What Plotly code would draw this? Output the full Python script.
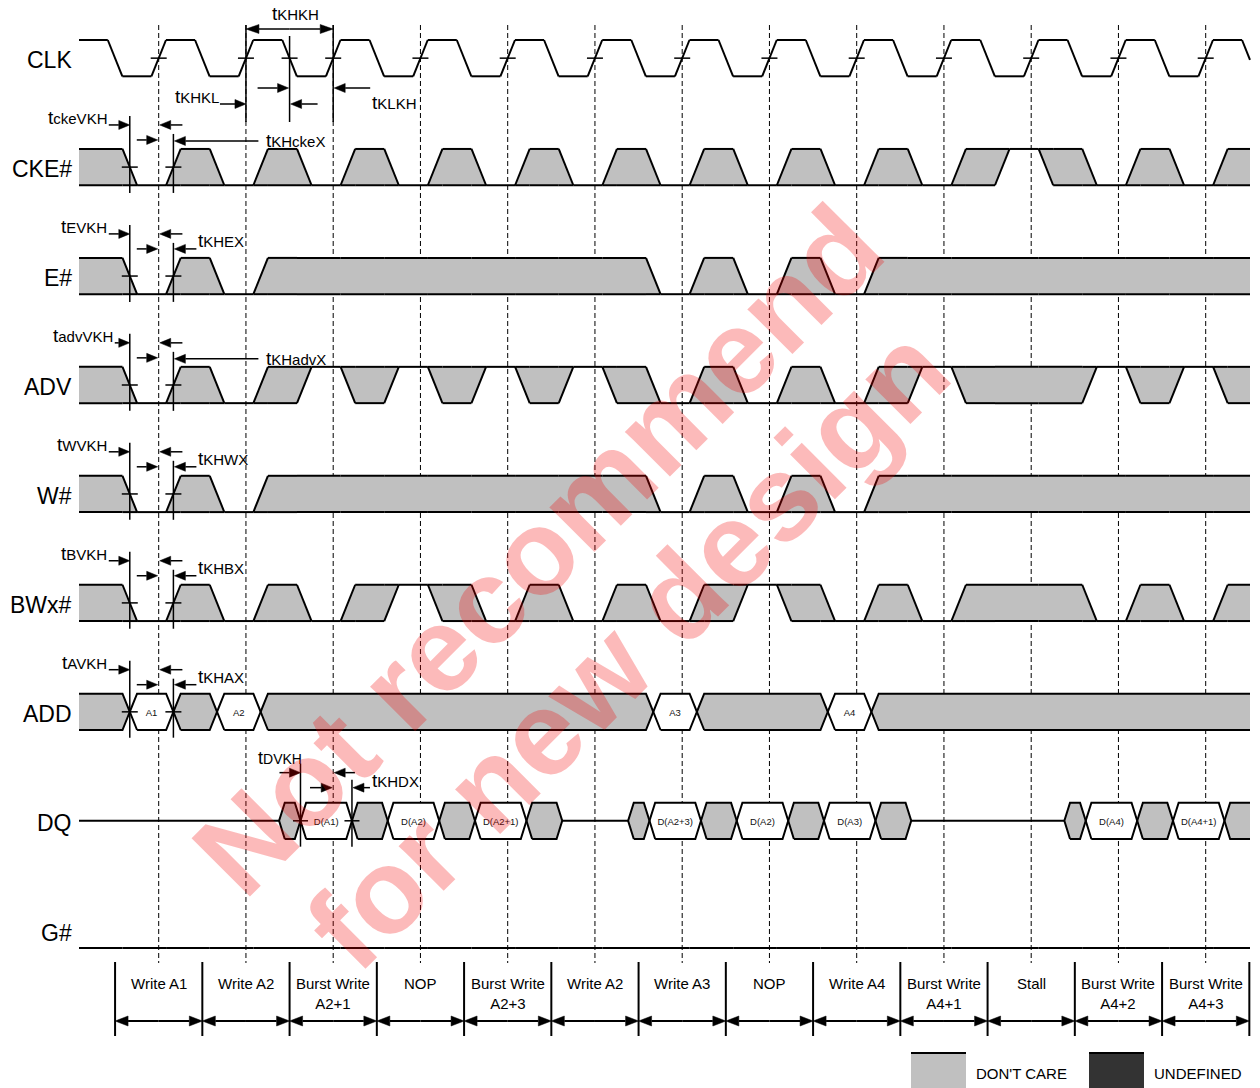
import plotly.graph_objects as go

# ------------------------------------------------------------------ data
SIGNALS = ["CLK", "CKE#", "E#", "ADV", "W#", "BWx#", "ADD", "DQ", "G#"]

# one state per half clock period: H high, L low, X don't care
CLK_STATES = list("HL" * 14)
CKE_STATES = list("XL" * 10 + "XH" + "XL" * 2 + "X")
E_STATES = list("XLXL" + "X" * 9 + "LXLXL" + "X" * 9)
ADV_STATES = list("XLXLXHXHXHXHXLXLXLXHXXXHXHX")
W_STATES = list("XLXL" + "X" * 9 + "LXLXL" + "X" * 9)
BW_STATES = list("XLXLXLXHXLXLXLXHXLXLXXXLXLX")
G_STATES = list("L" * 27)

# address bus, one value per half clock period
ADD_VALUES = ["X", "A1", "X", "A2"] + ["X"] * 9 + ["A3", "X", "X", "X", "A4"] + ["X"] * 9

# data bus: value and crossing time (in clock periods) where it starts
DQ_VALUES = ["Z", "X", "D(A1)", "X", "D(A2)", "X", "D(A2+1)", "X", "Z", "X",
             "D(A2+3)", "X", "D(A2)", "X", "D(A3)", "X", "Z", "X", "D(A4)", "X",
             "D(A4+1)", "X"]
DQ_CROSS = [None, 1.38, 1.625, 2.215, 2.625, 3.215, 3.625, 4.215, 4.625, 5.38,
            5.625, 6.215, 6.625, 7.215, 7.625, 8.215, 8.625, 10.38, 10.625, 11.215,
            11.625, 12.215]

CYCLE_LABELS = ["Write A1", "Write A2", "Burst Write<br>A2+1", "NOP",
                "Burst Write<br>A2+3", "Write A2", "Write A3", "NOP", "Write A4",
                "Burst Write<br>A4+1", "Stall", "Burst Write<br>A4+2",
                "Burst Write<br>A4+3"]

SETUP_NAMES = ["ckeVKH", "EVKH", "advVKH", "WVKH", "BVKH", "AVKH"]
HOLD_NAMES = ["KHckeX", "KHEX", "KHadvX", "KHWX", "KHBX", "KHAX"]
CLK_TIMING = ["KHKH", "KHKL", "KLKH"]
DQ_TIMING = ["DVKH", "KHDX"]
LEGEND_LABELS = ["DON'T CARE", "UNDEFINED"]
WATERMARK = ["Not recommend", "for new design"]

# ------------------------------------------------------------------ geometry
FIG_W, FIG_H = 1260, 1088
X0_PX = 158.7
PERIOD_PX = 87.25
LEFT_PX, RIGHT_PX = 79, 1250
ROW0_TOP, ROW_PITCH, ROW_H = 40.0, 108.95, 36.3
EDGE = 0.167
SLOT0 = -0.915
CLK_SLOT0 = -1.0835
HALF = 0.5
DQ_HW = 0.065

GRAY = "#c0c0c0"
DARK = "#333333"
INK = "black"
FONT = "Liberation Sans, Arial, sans-serif"


def t_of(px):
    return (px - X0_PX) / PERIOD_PX


def px_of(t):
    return X0_PX + PERIOD_PX * t


def dpx(p):
    return p / PERIOD_PX


XMIN, XMAX = t_of(LEFT_PX), t_of(RIGHT_PX)


def row_top(r):
    return ROW0_TOP + ROW_PITCH * r


class Path:
    def __init__(self):
        self.x, self.y = [], []

    def add(self, pts):
        for a, b in pts:
            self.x.append(a)
            self.y.append(b)
        self.x.append(None)
        self.y.append(None)


grid, gray, white, sig, ann, box, heads = (Path() for _ in range(7))
bus_text = {"x": [], "y": [], "t": []}


def clip_seg(p, q):
    (xa, ya), (xb, yb) = p, q
    if xa > xb:
        (xa, ya), (xb, yb) = (xb, yb), (xa, ya)
    if xb <= XMIN or xa >= XMAX:
        return None
    nxa, nya, nxb, nyb = xa, ya, xb, yb
    if xa < XMIN:
        nxa, nya = XMIN, ya + (yb - ya) * (XMIN - xa) / (xb - xa)
    if xb > XMAX:
        nxb, nyb = XMAX, ya + (yb - ya) * (XMAX - xa) / (xb - xa)
    return [(nxa, nya), (nxb, nyb)]


def draw_digital(states, slot0, top, bot):
    n = len(states)
    b = [slot0 + HALF * j for j in range(n + 1)]

    def line(p, q):
        s = clip_seg(p, q)
        if s:
            sig.add(s)

    for j, s in enumerate(states):
        a = b[j] + (EDGE if j > 0 and states[j - 1] != s else 0.0)
        e = b[j + 1]
        if s in "HX":
            line((a, top), (e, top))
        if s in "LX":
            line((a, bot), (e, bot))
        if j + 1 < n and states[j + 1] != s:
            p, q, t = s, states[j + 1], b[j + 1]
            if (p, q) in (("L", "H"), ("L", "X"), ("X", "H")):
                line((t, bot), (t + EDGE, top))
            else:
                line((t, top), (t + EDGE, bot))
            if "X" in (p, q):
                lvl = top if "H" in (p, q) else bot
                line((t, lvl), (t + EDGE, lvl))
    j = 0
    while j < n:
        if states[j] != "X":
            j += 1
            continue
        k = j
        while k + 1 < n and states[k + 1] == "X":
            k += 1
        p = states[j - 1] if j > 0 else None
        q = states[k + 1] if k + 1 < n else None
        if p is None:
            pts = [(XMIN, bot), (XMIN, top)]
        elif p == "L":
            pts = [(b[j], bot), (b[j] + EDGE, top)]
        else:
            pts = [(b[j] + EDGE, bot), (b[j], top)]
        if q is None:
            pts += [(XMAX, top), (XMAX, bot)]
        elif q == "L":
            pts += [(b[k + 1], top), (b[k + 1] + EDGE, bot)]
        else:
            pts += [(b[k + 1] + EDGE, top), (b[k + 1], bot)]
        gray.add(pts + [pts[0]])
        j = k + 1


def slots_to_runs(values, slot0):
    vals, cross = [], []
    for j, v in enumerate(values):
        if j == 0 or v != values[j - 1]:
            vals.append(v)
            cross.append(None if j == 0 else slot0 + HALF * j + EDGE / 2)
    return vals, cross


def draw_bus(values, cross, hw, top, bot):
    mid = (top + bot) / 2
    for i, v in enumerate(values):
        cs = cross[i]
        ce = cross[i + 1] if i + 1 < len(values) else None
        if v == "Z":
            sig.add([(XMIN if cs is None else cs, mid), (XMAX if ce is None else ce, mid)])
            continue
        left = [(XMIN, bot), (XMIN, top)] if cs is None else [(cs + hw, bot), (cs, mid), (cs + hw, top)]
        right = [(XMAX, top), (XMAX, bot)] if ce is None else [(ce - hw, top), (ce, mid), (ce - hw, bot)]
        (gray if v == "X" else white).add(left + right + [left[0]])
        if cs is None:
            outline = [(XMIN, top)] + right + [(XMIN, bot)]
        elif ce is None:
            outline = [(XMAX, top)] + list(reversed(left)) + [(XMAX, bot)]
        else:
            outline = left + right + [left[0]]
        sig.add(outline)
        if v != "X":
            bus_text["x"].append((cs + ce) / 2)
            bus_text["y"].append(mid + 1.5)
            bus_text["t"].append(v)


def arrow(t_tail, t_tip, y, L=11, h=9, path=None):
    path = path or ann
    d = 1 if t_tip > t_tail else -1
    base = t_tip - d * dpx(L)
    path.add([(t_tail, y), (base, y)])
    heads.add([(t_tip, y), (base, y - h / 2), (base, y + h / 2), (t_tip, y)])


def tick(t, y, half=8):
    ann.add([(t - dpx(half), y), (t + dpx(half), y)])


annotations = []


def tlabel(name, x_px, y, anchor="left", small=15, big=19):
    annotations.append(dict(
        x=t_of(x_px), y=y, xref="x", yref="y", showarrow=False,
        text="t<span style='font-size:%dpx'>%s</span>" % (small, name),
        font=dict(family=FONT, size=big, color=INK),
        xanchor=anchor, yanchor="middle"))


# ------------------------------------------------------------------ build
n_clk = len(CYCLE_LABELS)
for k in range(n_clk):
    grid.add([(k, 25), (k, 963)])

digital_rows = [(0, CLK_STATES, CLK_SLOT0), (1, CKE_STATES, SLOT0), (2, E_STATES, SLOT0),
                (3, ADV_STATES, SLOT0), (4, W_STATES, SLOT0), (5, BW_STATES, SLOT0),
                (8, G_STATES, SLOT0)]
for r, st, s0 in digital_rows:
    draw_digital(st, s0, row_top(r), row_top(r) + ROW_H)

add_vals, add_cross = slots_to_runs(ADD_VALUES, SLOT0)
draw_bus(add_vals, add_cross, EDGE / 2, row_top(6), row_top(6) + ROW_H)
draw_bus(DQ_VALUES, DQ_CROSS, DQ_HW, row_top(7), row_top(7) + ROW_H)

# clock timing
clk_mid = row_top(0) + ROW_H / 2
for k in range(n_clk):
    tick(k, clk_mid)
tick(1.5, clk_mid)
for t in (1.0, 2.0):
    ann.add([(t, 25), (t, 122)])
ann.add([(1.5, 36), (1.5, 122)])
arrow(1.5, 1.0, 29, L=13)
arrow(1.5, 2.0, 29, L=13)
annotations.append(dict(x=t_of(px_of(1.5) + 6), y=13, xref="x", yref="y", showarrow=False,
                        text="t<span style='font-size:15px'>%s</span>" % CLK_TIMING[0],
                        font=dict(family=FONT, size=19, color=INK), xanchor="center", yanchor="middle"))
tlabel(CLK_TIMING[1], px_of(1.0) - 25, 96, anchor="right")
arrow(t_of(px_of(1.0) - 26), 1.0, 104)
arrow(t_of(px_of(1.5) - 32), 1.5 - dpx(1), 88)
arrow(t_of(px_of(1.5) + 28), 1.5 + dpx(1), 104)
arrow(t_of(px_of(2.0) + 37), 2.0 + dpx(1), 88)
tlabel(CLK_TIMING[2], px_of(2.0) + 37, 102)

# setup / hold annotations for control rows and ADD
c1 = SLOT0 + HALF * 1 + EDGE / 2
c2 = SLOT0 + HALF * 2 + EDGE / 2
long_hold = [True, False, True, False, False, False]
setup_gap = [21, 21, 15, 21, 21, 21]
for i in range(6):
    r = i + 1
    T = row_top(r)
    ann.add([(c1, T - 33), (c1, T + 44)])
    ann.add([(c2, T - 15), (c2, T + 44)])
    tlabel(SETUP_NAMES[i], px_of(c1) - setup_gap[i], T - 31, anchor="right")
    arrow(t_of(px_of(c1) - setup_gap[i]), c1, T - 24)
    arrow(t_of(px_of(c1) + 7), 0 - dpx(1), T - 9)
    arrow(t_of(px_of(c2) + 9), 0 + dpx(1), T - 24)
    if long_hold[i]:
        arrow(t_of(px_of(c2) + 85), c2 + dpx(1), T - 8)
        tlabel(HOLD_NAMES[i], px_of(c2) + 91, T - 8)
    else:
        arrow(t_of(px_of(c2) + 23), c2 + dpx(1), T - 9)
        tlabel(HOLD_NAMES[i], px_of(c2) + 23, T - 17)
    tick(c1, T + ROW_H / 2)
    tick(c2, T + ROW_H / 2)

# DQ annotations
T = row_top(7)
ca, cb = DQ_CROSS[2], DQ_CROSS[3]
ann.add([(ca, T - 39), (ca, T + 44)])
ann.add([(cb, T - 23), (cb, T + 44)])
tlabel(DQ_TIMING[0], px_of(ca) + 4, T - 45, anchor="right", small=14, big=18)
arrow(t_of(px_of(ca) - 21), ca, T - 30)
arrow(t_of(px_of(ca) + 9.5), 2 - dpx(1), T - 15)
arrow(t_of(px_of(cb) + 3), 2 + dpx(1), T - 30)
arrow(t_of(px_of(cb) + 18), cb + dpx(1), T - 15)
tlabel(DQ_TIMING[1], px_of(cb) + 18, T - 22)
tick(ca, T + ROW_H / 2, 7.5)
tick(cb, T + ROW_H / 2, 7.5)

# cycle labels
for k in range(n_clk + 1):
    box.add([(k - 0.5, 962), (k - 0.5, 1036)])
for k, lab in enumerate(CYCLE_LABELS):
    arrow(k, k - 0.5, 1021, L=13, h=10, path=box)
    arrow(k, k + 0.5, 1021, L=13, h=10, path=box)
    annotations.append(dict(x=k, y=972.5, xref="x", yref="y", showarrow=False, text=lab,
                            font=dict(family=FONT, size=15, color=INK),
                            xanchor="center", yanchor="top", align="center"))

# signal names
for r, name in enumerate(SIGNALS):
    y = row_top(r) + ROW_H / 2 + 2 if r < 8 else row_top(r) + 21.5
    annotations.append(dict(x=t_of(73.5), y=y, xref="x", yref="y", showarrow=False, text=name,
                            font=dict(family=FONT, size=23, color=INK),
                            xanchor="right", yanchor="middle"))

# legend
shapes = []
for (x0, col), lab in zip([(911, GRAY), (1089, DARK)], LEGEND_LABELS):
    shapes.append(dict(type="rect", xref="x", yref="y", x0=t_of(x0), x1=t_of(x0 + 55),
                       y0=1053, y1=1095, fillcolor=col, line=dict(width=0), layer="above"))
    shapes.append(dict(type="line", xref="x", yref="y", x0=t_of(x0), x1=t_of(x0 + 55),
                       y0=1053, y1=1053, line=dict(color=INK, width=2), layer="above"))
    annotations.append(dict(x=t_of(x0 + 63), y=1073, xref="x", yref="y", showarrow=False,
                            text=lab, font=dict(family=FONT, size=15, color=INK),
                            xanchor="left", yanchor="middle"))

# watermark
for (cx, cy), txt in zip([(537, 550), (627, 648)], WATERMARK):
    annotations.append(dict(x=t_of(cx), y=cy, xref="x", yref="y", showarrow=False,
                            text="<b>%s</b>" % txt, textangle=-45,
                            font=dict(family=FONT, size=120, color="rgba(245,0,0,0.27)"),
                            xanchor="center", yanchor="middle"))

# ------------------------------------------------------------------ figure
fig = go.Figure()
fig.add_trace(go.Scatter(x=grid.x, y=grid.y, mode="lines",
                         line=dict(color=INK, width=1, dash="5px,3px"), hoverinfo="skip"))
fig.add_trace(go.Scatter(x=gray.x, y=gray.y, mode="lines", fill="toself", fillcolor=GRAY,
                         line=dict(width=0), hoverinfo="skip"))
fig.add_trace(go.Scatter(x=white.x, y=white.y, mode="lines", fill="toself", fillcolor="white",
                         line=dict(width=0), hoverinfo="skip"))
fig.add_trace(go.Scatter(x=sig.x, y=sig.y, mode="lines", line=dict(color=INK, width=2),
                         hoverinfo="skip"))
fig.add_trace(go.Scatter(x=ann.x, y=ann.y, mode="lines", line=dict(color=INK, width=1.5),
                         hoverinfo="skip"))
fig.add_trace(go.Scatter(x=box.x, y=box.y, mode="lines", line=dict(color=INK, width=2),
                         hoverinfo="skip"))
fig.add_trace(go.Scatter(x=heads.x, y=heads.y, mode="lines", fill="toself", fillcolor=INK,
                         line=dict(color=INK, width=0.5), hoverinfo="skip"))
fig.add_trace(go.Scatter(x=bus_text["x"], y=bus_text["y"], text=bus_text["t"], mode="text",
                         textposition="middle center",
                         textfont=dict(family=FONT, size=9.5, color="#111"), hoverinfo="skip"))

fig.update_layout(
    width=FIG_W, height=FIG_H, margin=dict(l=0, r=0, t=0, b=0),
    paper_bgcolor="white", plot_bgcolor="white", showlegend=False,
    xaxis=dict(range=[t_of(0), t_of(FIG_W)], visible=False, fixedrange=True),
    yaxis=dict(range=[FIG_H, 0], visible=False, fixedrange=True),
    annotations=annotations, shapes=shapes,
)

fig.write_html("out.html", config={"displayModeBar": False},
               post_script="document.body.style.margin='0px';")
